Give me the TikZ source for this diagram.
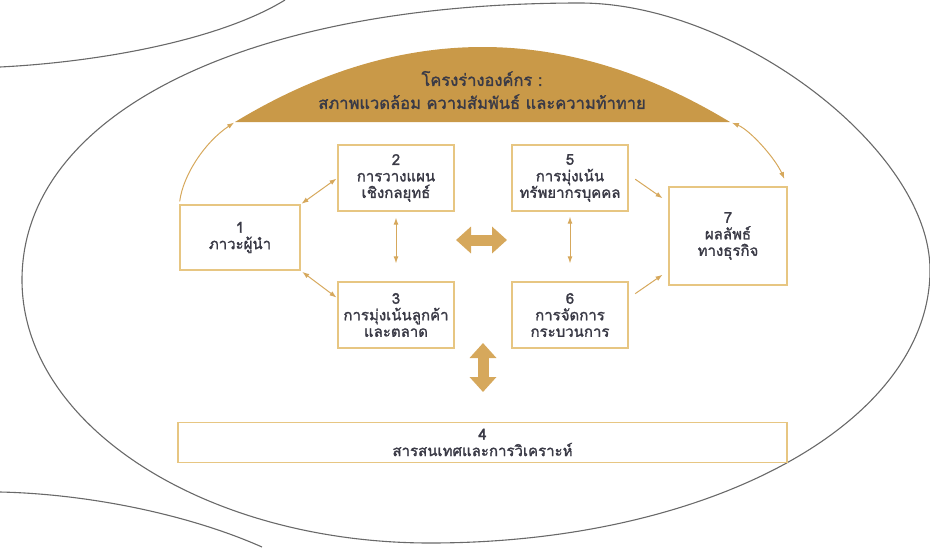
\documentclass[tikz,border=0pt]{standalone}
\usepackage{fontspec}
\newfontfamily\thaifont[Script=Thai, FakeBold=1.6]{Loma}
\usetikzlibrary{arrows.meta,calc}
\definecolor{domegold}{RGB}{201,153,72}
\definecolor{boxline}{RGB}{231,198,130}
\definecolor{arrowgold}{RGB}{214,168,92}
\definecolor{textdark}{RGB}{58,58,70}
\definecolor{ovalgray}{RGB}{105,105,105}
\begin{document}
\begin{tikzpicture}[x=1pt, y=-1pt,
    box/.style={rectangle, draw=boxline, line width=1.3pt, fill=white, inner sep=0pt, align=center, text=textdark, font=\thaifont\fontsize{15}{16.5}\selectfont},
    link/.style={draw=arrowgold, line width=1pt, >={Latex[length=7pt,width=5pt]}},
    bigarrow/.style={{Triangle[length=15pt,width=26pt]}-{Triangle[length=15pt,width=26pt]}, draw=arrowgold, line width=11pt},
    curve/.style={draw=ovalgray, line width=1.1pt}
]
    \useasboundingbox (0,0) rectangle (930,547);

    % Outer oval and side lines
    \draw[curve] (580,3) .. controls (737,3) and (930,150) .. (930,270)
        .. controls (930,423) and (710,543) .. (430,543)
        .. controls (205,543) and (22,425) .. (22,280)
        .. controls (22,114) and (245,3) .. cycle;
    \draw[curve] (0,67) .. controls (100,62) and (220,40) .. (285,0);
    \draw[curve] (0,492) .. controls (90,494) and (190,515) .. (262,547);

    % Dome
    \coordinate (dl) at (235,122);
    \coordinate (dr) at (730,122);
    \fill[domegold] (dl) .. controls (400,22) and (565,22) .. (dr) -- cycle;
    \node[align=center, text=textdark, font=\thaifont\fontsize{16.5}{23}\selectfont] (title) at (482,90)
        {โครงร่างองค์กร :\\สภาพแวดล้อม ความสัมพันธ์ และความท้าทาย};

    % Boxes
    \node[box, minimum width=120pt, minimum height=65pt] (b1) at (240,237.5) {1\\ภาวะผู้นำ};
    \node[box, minimum width=116pt, minimum height=66pt] (b2) at (396,178) {2\\การวางแผน\\เชิงกลยุทธ์};
    \node[box, minimum width=116pt, minimum height=66pt] (b3) at (396,315) {3\\การมุ่งเน้นลูกค้า\\และตลาด};
    \node[box, minimum width=116pt, minimum height=66pt] (b5) at (570,178) {5\\การมุ่งเน้น\\ทรัพยากรบุคคล};
    \node[box, minimum width=116pt, minimum height=66pt] (b6) at (570,315) {6\\การจัดการ\\กระบวนการ};
    \node[box, minimum width=118pt, minimum height=98pt] (b7) at (728,236) {7\\ผลลัพธ์\\ทางธุรกิจ};
    \node[box, minimum width=609pt, minimum height=40pt] (b4) at (482.5,442.5) {4\\สารสนเทศและการวิเคราะห์};

    % Thin links
    \draw[link, <->, shorten <=1pt, shorten >=1pt] (b1.north east) -- (b2.west);
    \draw[link, <->, shorten <=2pt, shorten >=1pt] (b1.south east) -- ($(b3.north west)!0.5!(b3.west)$);
    \draw[link, <->, shorten <=6pt, shorten >=18pt] (b2.south) -- (b3.north);
    \draw[link, <->, shorten <=5pt, shorten >=18pt] (b5.south) -- (b6.north);
    \draw[link, ->, shorten <=8pt, shorten >=7pt] ($(b5.north east)!0.45!(b5.south east)$) -- ($(b7.north west)!0.16!(b7.south west)$);
    \draw[link, ->, shorten <=8pt, shorten >=7pt] ($(b6.north east)!0.25!(b6.south east)$) -- ($(b7.north west)!0.85!(b7.south west)$);
    \draw[link, ->, shorten <=3pt, shorten >=1pt] (b1.north west) .. controls (183,175) and (205,142) .. (dl);
    \draw[link, <->, shorten <=2pt, shorten >=8pt] (dr) .. controls (750,130) and (775,158) .. (b7.north east);

    % Big arrows
    \coordinate (hl) at (456,240);
    \coordinate (hr) at (507,240);
    \coordinate (vt) at (483,343);
    \coordinate (vb) at (483,392);
    \draw[bigarrow] (hl) -- (hr);
    \draw[bigarrow] (vt) -- (vb);
\end{tikzpicture}
\end{document}
